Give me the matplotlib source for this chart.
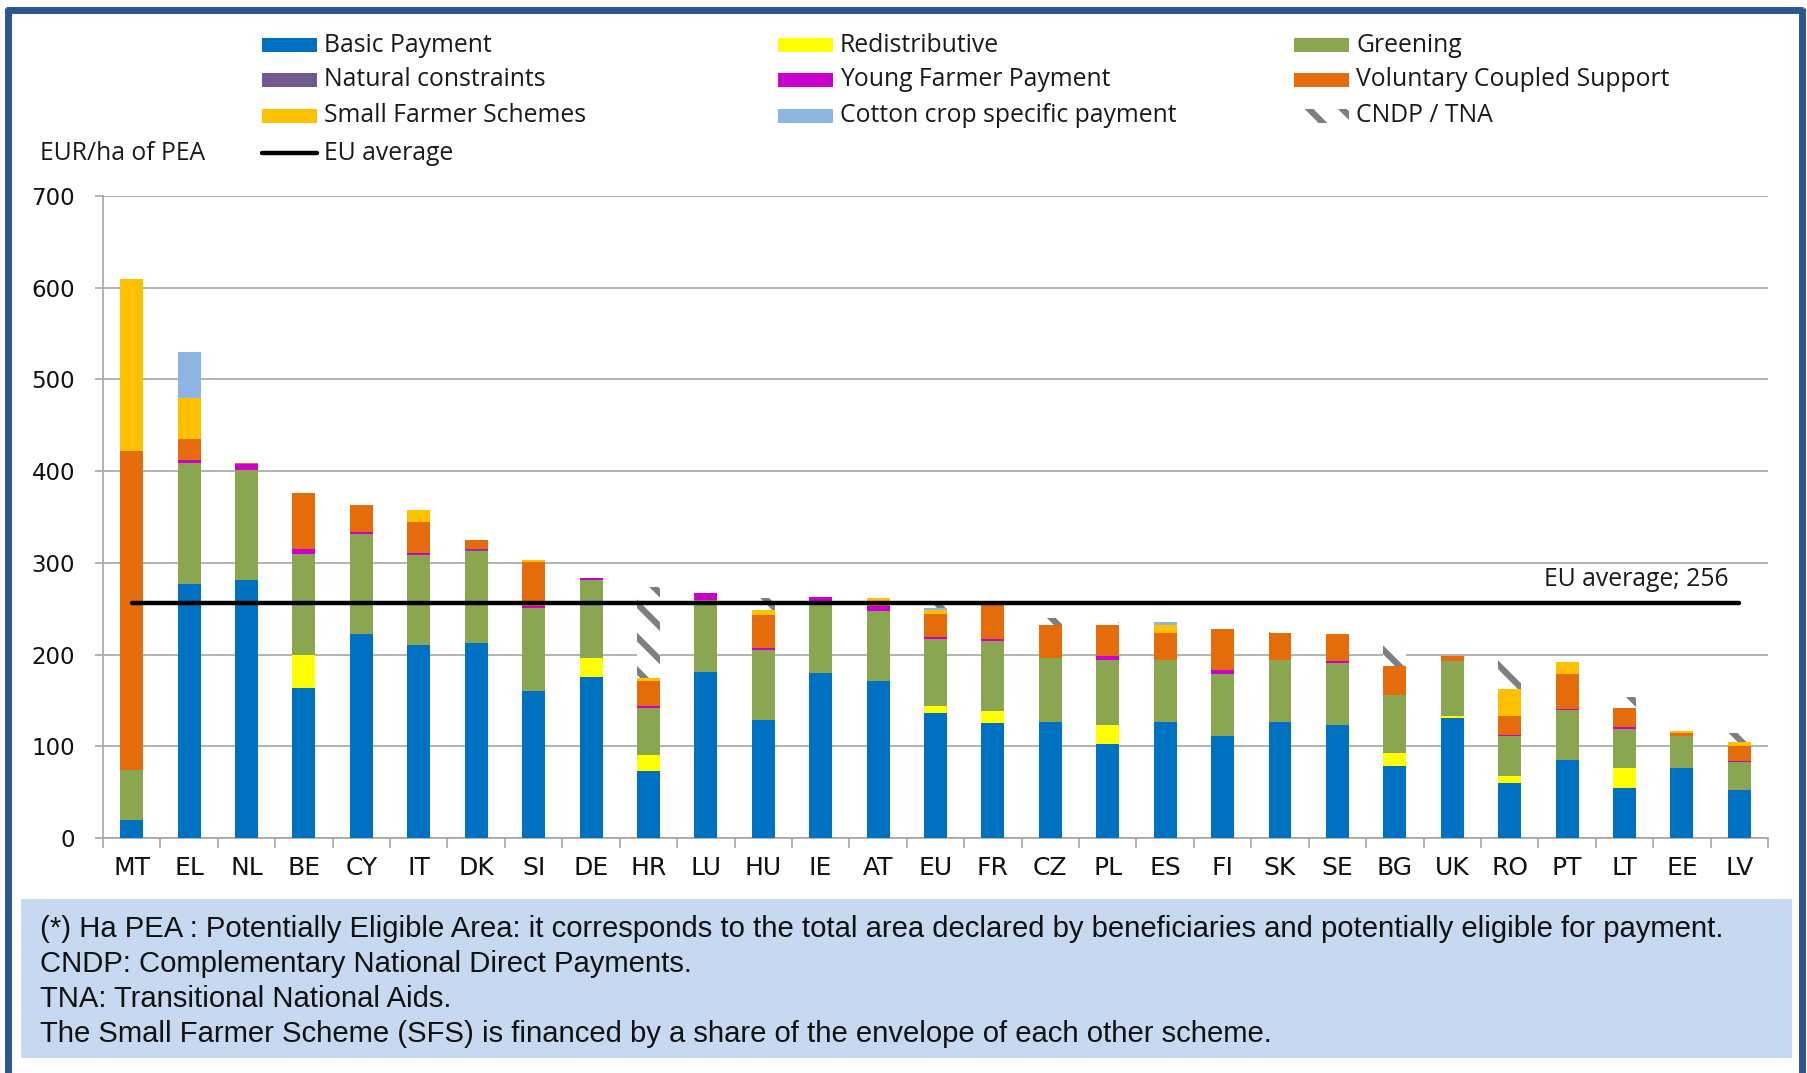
import numpy as np
import matplotlib
matplotlib.use("Agg")
import matplotlib.pyplot as plt
from matplotlib.patches import Rectangle
from matplotlib.lines import Line2D

# Direct payments per hectare of PEA, by member state (EUR/ha)
countries = ["MT", "EL", "NL", "BE", "CY", "IT", "DK", "SI", "DE", "HR",
             "LU", "HU", "IE", "AT", "EU", "FR", "CZ", "PL", "ES", "FI",
             "SK", "SE", "BG", "UK", "RO", "PT", "LT", "EE", "LV"]

basic = [20, 277, 281, 164, 222, 210, 213, 160, 176, 73,
         181, 129, 180, 171, 136, 125, 126, 103, 127, 111,
         126, 123, 78, 131, 60, 85, 54, 76, 52]
redistributive = [0, 0, 0, 36, 0, 0, 0, 0, 20, 17,
                  0, 0, 0, 0, 8, 13, 0, 20, 0, 0,
                  0, 0, 15, 2, 8, 0, 22, 0, 0]
greening = [54, 132, 120, 110, 110, 99, 100, 91, 85, 52,
            79, 76, 78, 77, 73, 77, 70, 71, 67, 68,
            68, 68, 63, 60, 43, 55, 43, 35, 31]
natural = [0, 0, 0, 0, 0, 0, 1, 0, 0, 0,
           0, 0, 0, 0, 0, 0, 0, 0, 0, 0,
           0, 0, 0, 0, 0, 0, 0, 0, 0]
young = [0, 3, 7, 5, 2, 2, 1, 2, 2, 2,
         7, 2, 5, 5, 2, 2, 0, 4, 0, 4,
         0, 2, 0, 0, 1, 1, 2, 0, 1]
coupled = [348, 23, 1, 61, 29, 34, 10, 48, 1, 27,
           0, 36, 0, 3, 25, 38, 36, 34, 29, 45,
           29, 29, 31, 5, 21, 38, 21, 4, 16]
small_farmer = [188, 45, 0, 0, 0, 13, 0, 2, 0, 3,
                0, 6, 0, 6, 5, 0, 0, 0, 9, 0,
                0, 0, 1, 0, 30, 13, 0, 2, 5]
cotton = [0, 50, 0, 0, 0, 0, 0, 0, 0, 0,
          0, 0, 0, 0, 2, 0, 0, 0, 3, 0,
          0, 0, 0, 0, 0, 0, 0, 0, 0]
cndp = [0, 0, 0, 0, 0, 0, 0, 0, 0, 100,
        0, 13, 0, 0, 3, 0, 8, 3, 0, 0,
        3, 0, 25, 0, 32, 0, 12, 0, 9]
eu_average = 256

W, H = 1807, 1073
LEGEND_FONT = ["Open Sans", "DejaVu Sans"]
LEGEND_SIZE = 17.8
HATCH_GREY = "#7F7F7F"

plt.rcParams["hatch.linewidth"] = 4.5
plt.rcParams["hatch.color"] = HATCH_GREY

def fx(x):
    return x / W

def fy(y):
    return 1 - y / H

fig = plt.figure(figsize=(W / 100, H / 100), dpi=100)
fig.patch.set_facecolor("white")

ax = fig.add_axes([fx(103), fy(838), fx(1768) - fx(103), fy(196) - fy(838)])

stack = [
    ("Basic Payment", basic, "#0070C0", None),
    ("Redistributive", redistributive, "#FFFF00", None),
    ("Greening", greening, "#8BA650", None),
    ("Natural constraints", natural, "#735A8C", None),
    ("Young Farmer Payment", young, "#CC00CC", None),
    ("Voluntary Coupled Support", coupled, "#E46C0A", None),
    ("Small Farmer Schemes", small_farmer, "#FFC000", None),
    ("Cotton crop specific payment", cotton, "#8EB4E3", None),
    ("CNDP / TNA", cndp, "white", "\\"),
]

x = np.arange(len(countries))
bottom = np.zeros(len(countries))
for label, vals, color, hatch in stack:
    vals = np.array(vals, dtype=float)
    if hatch:
        ax.bar(x, vals, 0.4, bottom=bottom, facecolor="white",
               edgecolor=HATCH_GREY, hatch=hatch, linewidth=0, zorder=3)
    else:
        ax.bar(x, vals, 0.4, bottom=bottom, color=color, linewidth=0, zorder=3)
    bottom += vals

# EU average reference line
ax.plot([0, len(countries) - 1], [eu_average, eu_average], color="black",
        lw=3.2, solid_capstyle="round", zorder=5)
ax.annotate(f"EU average; {eu_average}", xy=(26.2, eu_average), xytext=(0, 8),
            textcoords="offset points", ha="center", va="bottom",
            fontsize=LEGEND_SIZE, family=LEGEND_FONT, color="#1a1a1a")

ax.set_xlim(-0.5, len(countries) - 0.5)
ax.set_ylim(0, 700)
ax.set_yticks(range(0, 701, 100))
ax.set_xticks(x)
ax.set_xticklabels(countries)
ax.set_xticks(np.arange(-0.5, len(countries)), minor=True)
ax.tick_params(axis="x", which="major", length=0, pad=13,
               labelsize=18, labelcolor="#111111")
ax.tick_params(axis="x", which="minor", length=7, color="#A6A6A6", width=1.2)
ax.tick_params(axis="y", length=6, color="#A6A6A6", width=1.2, pad=14,
               labelsize=16.5, labelcolor="#111111")
for lab in ax.get_xticklabels() + ax.get_yticklabels():
    lab.set_family(["DejaVu Sans"])
ax.grid(axis="y", color="#A6A6A6", lw=1.2, zorder=0)
ax.set_axisbelow(True)
for side in ("top", "right"):
    ax.spines[side].set_visible(False)
for side in ("left", "bottom"):
    ax.spines[side].set_color("#A6A6A6")
    ax.spines[side].set_linewidth(1.2)

# legend laid out in three columns across the top
col_x = [262, 778, 1294]
row_y = [45, 80, 116]
order = [[0, 3, 6], [1, 4, 7], [2, 5, 8]]
for c, idxs in enumerate(order):
    for r, i in enumerate(idxs):
        label, _, color, hatch = stack[i]
        y0 = row_y[r]
        if hatch:
            patch = Rectangle((fx(col_x[c]), fy(y0 + 7)), fx(55), 14 / H,
                              transform=fig.transFigure, facecolor="white",
                              edgecolor=HATCH_GREY, hatch=hatch, linewidth=0)
        else:
            patch = Rectangle((fx(col_x[c]), fy(y0 + 7)), fx(55), 14 / H,
                              transform=fig.transFigure, facecolor=color,
                              edgecolor="none")
        fig.add_artist(patch)
        fig.text(fx(col_x[c] + 62), fy(y0), label, ha="left", va="center",
                 fontsize=LEGEND_SIZE, family=LEGEND_FONT, color="#1a1a1a")

fig.add_artist(Line2D([fx(262), fx(317)], [fy(153), fy(153)], color="black",
                      lw=3.2, solid_capstyle="round", transform=fig.transFigure))
fig.text(fx(324), fy(153), "EU average", ha="left", va="center",
         fontsize=LEGEND_SIZE, family=LEGEND_FONT, color="#1a1a1a")
fig.text(fx(40), fy(153), "EUR/ha of PEA", ha="left", va="center",
         fontsize=LEGEND_SIZE, family=LEGEND_FONT, color="#1a1a1a")

# footnote box
fig.add_artist(Rectangle((fx(21), fy(1058)), fx(1792) - fx(21),
                         fy(899) - fy(1058), transform=fig.transFigure,
                         facecolor="#C6D9F1", edgecolor="none"))
notes = [
    "(*) Ha PEA : Potentially Eligible Area: it corresponds to the total area "
    "declared by beneficiaries and potentially eligible for payment.",
    "CNDP: Complementary National Direct Payments.",
    "TNA: Transitional National Aids.",
    "The Small Farmer Scheme (SFS) is financed by a share of the envelope of each other scheme.",
]
for i, line in enumerate(notes):
    fig.text(fx(40), fy(929 + i * 35), line, ha="left", va="center",
             fontsize=21.1, family=["Liberation Sans"], color="#111111")

# dark blue frame
frame = dict(color="#2B5690", lw=5, transform=fig.transFigure, solid_capstyle="butt")
fig.add_artist(Line2D([fx(8), fx(8)], [fy(8), 0], **frame))
fig.add_artist(Line2D([fx(6), fx(1803)], [fy(10), fy(10)], **frame))
fig.add_artist(Line2D([fx(1802), fx(1802)], [fy(8), 0], **frame))

fig.savefig("out.png", dpi=100)
